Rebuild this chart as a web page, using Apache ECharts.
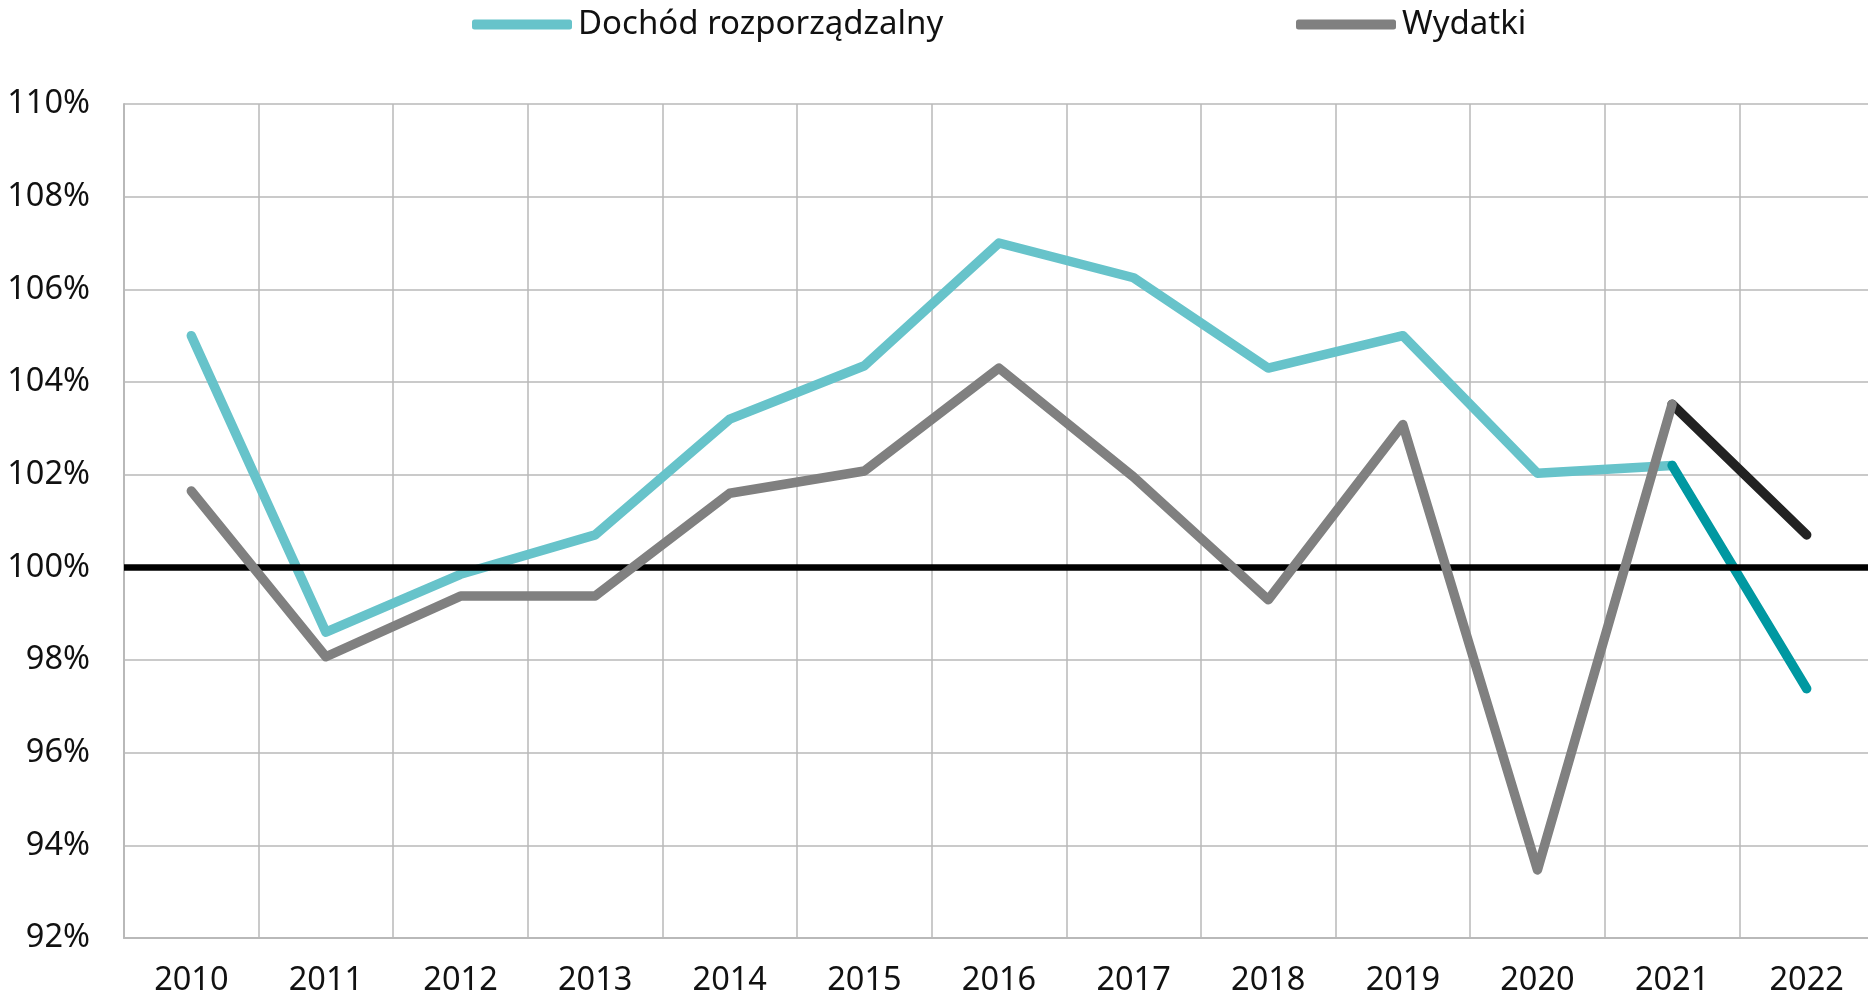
<!DOCTYPE html>
<html>
<head>
<meta charset="utf-8">
<script src="https://cdn.jsdelivr.net/npm/echarts@6/dist/echarts.min.js"></script>
<style>
  html, body { margin: 0; padding: 0; background: #fff; }
  #chart { width: 1868px; height: 999px; }
</style>
</head>
<body>
<div id="chart"></div>
<script>
// data (index of previous year = 100%)
const years = ['2010', '2011', '2012', '2013', '2014', '2015', '2016', '2017', '2018', '2019', '2020', '2021', '2022']
const dochod = [105.0, 98.6, 99.85, 100.7, 103.2, 104.35, 107.0, 106.25, 104.3, 105.0, 102.03, 102.2, null]
const dochodPrognoza = [null, null, null, null, null, null, null, null, null, null, null, 102.2, 97.38]
const wydatki = [101.65, 98.07, 99.38, 99.38, 101.6, 102.08, 104.3, 101.95, 99.3, 103.08, 93.47, 103.52, null]
const wydatkiPrognoza = [null, null, null, null, null, null, null, null, null, null, null, 103.52, 100.7]
const yTicks = { min: 92, max: 110, step: 2 }
const baseLevel = 100

const chart = echarts.init(document.getElementById('chart'))
const fontFamily = '"Noto Sans", "Open Sans", sans-serif'
const gridColor = '#b9b9b9'

function lineSeries (name, data, color, z) {
  return {
    name: name,
    type: 'line',
    data: data,
    symbol: 'none',
    z: z,
    connectNulls: false,
    lineStyle: { color: color, width: 9.5, cap: 'round', join: 'round' },
    itemStyle: { color: color },
    emphasis: { disabled: true }
  }
}

function legendAt (name, left) {
  return {
    data: [name],
    left: left,
    top: 8,
    padding: 0,
    icon: 'roundRect',
    itemWidth: 100,
    itemHeight: 10,
    selectedMode: false,
    textStyle: { fontFamily: fontFamily, fontSize: 33, color: '#111', padding: [0, 0, 0, 1] }
  }
}

let option = {
  backgroundColor: '#fff',
  animation: false,
  textStyle: { fontFamily: fontFamily },
  legend: [
    legendAt('Dochód rozporządzalny', 472),
    legendAt('Wydatki', 1296)
  ],
  grid: {
    left: 124,
    top: 104,
    width: 1750,
    height: 834,
    // plot runs a bit past the right edge, like in the source picture
    outerBoundsMode: 'none'
  },
  xAxis: {
    type: 'category',
    data: years,
    boundaryGap: true,
    axisLine: { show: true, lineStyle: { color: gridColor, width: 2 } },
    axisTick: { show: false },
    splitLine: { show: true, lineStyle: { color: gridColor, width: 1.5 } },
    axisLabel: { fontSize: 32.5, color: '#111', margin: 26, fontFamily: fontFamily }
  },
  yAxis: {
    type: 'value',
    min: yTicks.min,
    max: yTicks.max,
    interval: yTicks.step,
    axisLine: { show: true, lineStyle: { color: gridColor, width: 2 } },
    axisTick: { show: false },
    splitLine: { show: true, lineStyle: { color: gridColor, width: 1.5 } },
    axisLabel: { formatter: '{value}%', fontSize: 32.5, color: '#111', margin: 34, fontFamily: fontFamily }
  },
  series: [
    lineSeries('Dochód rozporządzalny', dochod, '#67c3ca', 2),
    lineSeries('Dochód prognoza', dochodPrognoza, '#0098a1', 3),
    lineSeries('Wydatki prognoza', wydatkiPrognoza, '#222222', 4),
    lineSeries('Wydatki', wydatki, '#808080', 5),
    {
      name: 'poziom 100',
      type: 'line',
      data: [],
      z: 10,
      markLine: {
        silent: true,
        symbol: 'none',
        label: { show: false },
        lineStyle: { color: '#000', width: 6.5, type: 'solid' },
        data: [{ yAxis: baseLevel }]
      }
    }
  ]
}

chart.setOption(option)
</script>
</body>
</html>
